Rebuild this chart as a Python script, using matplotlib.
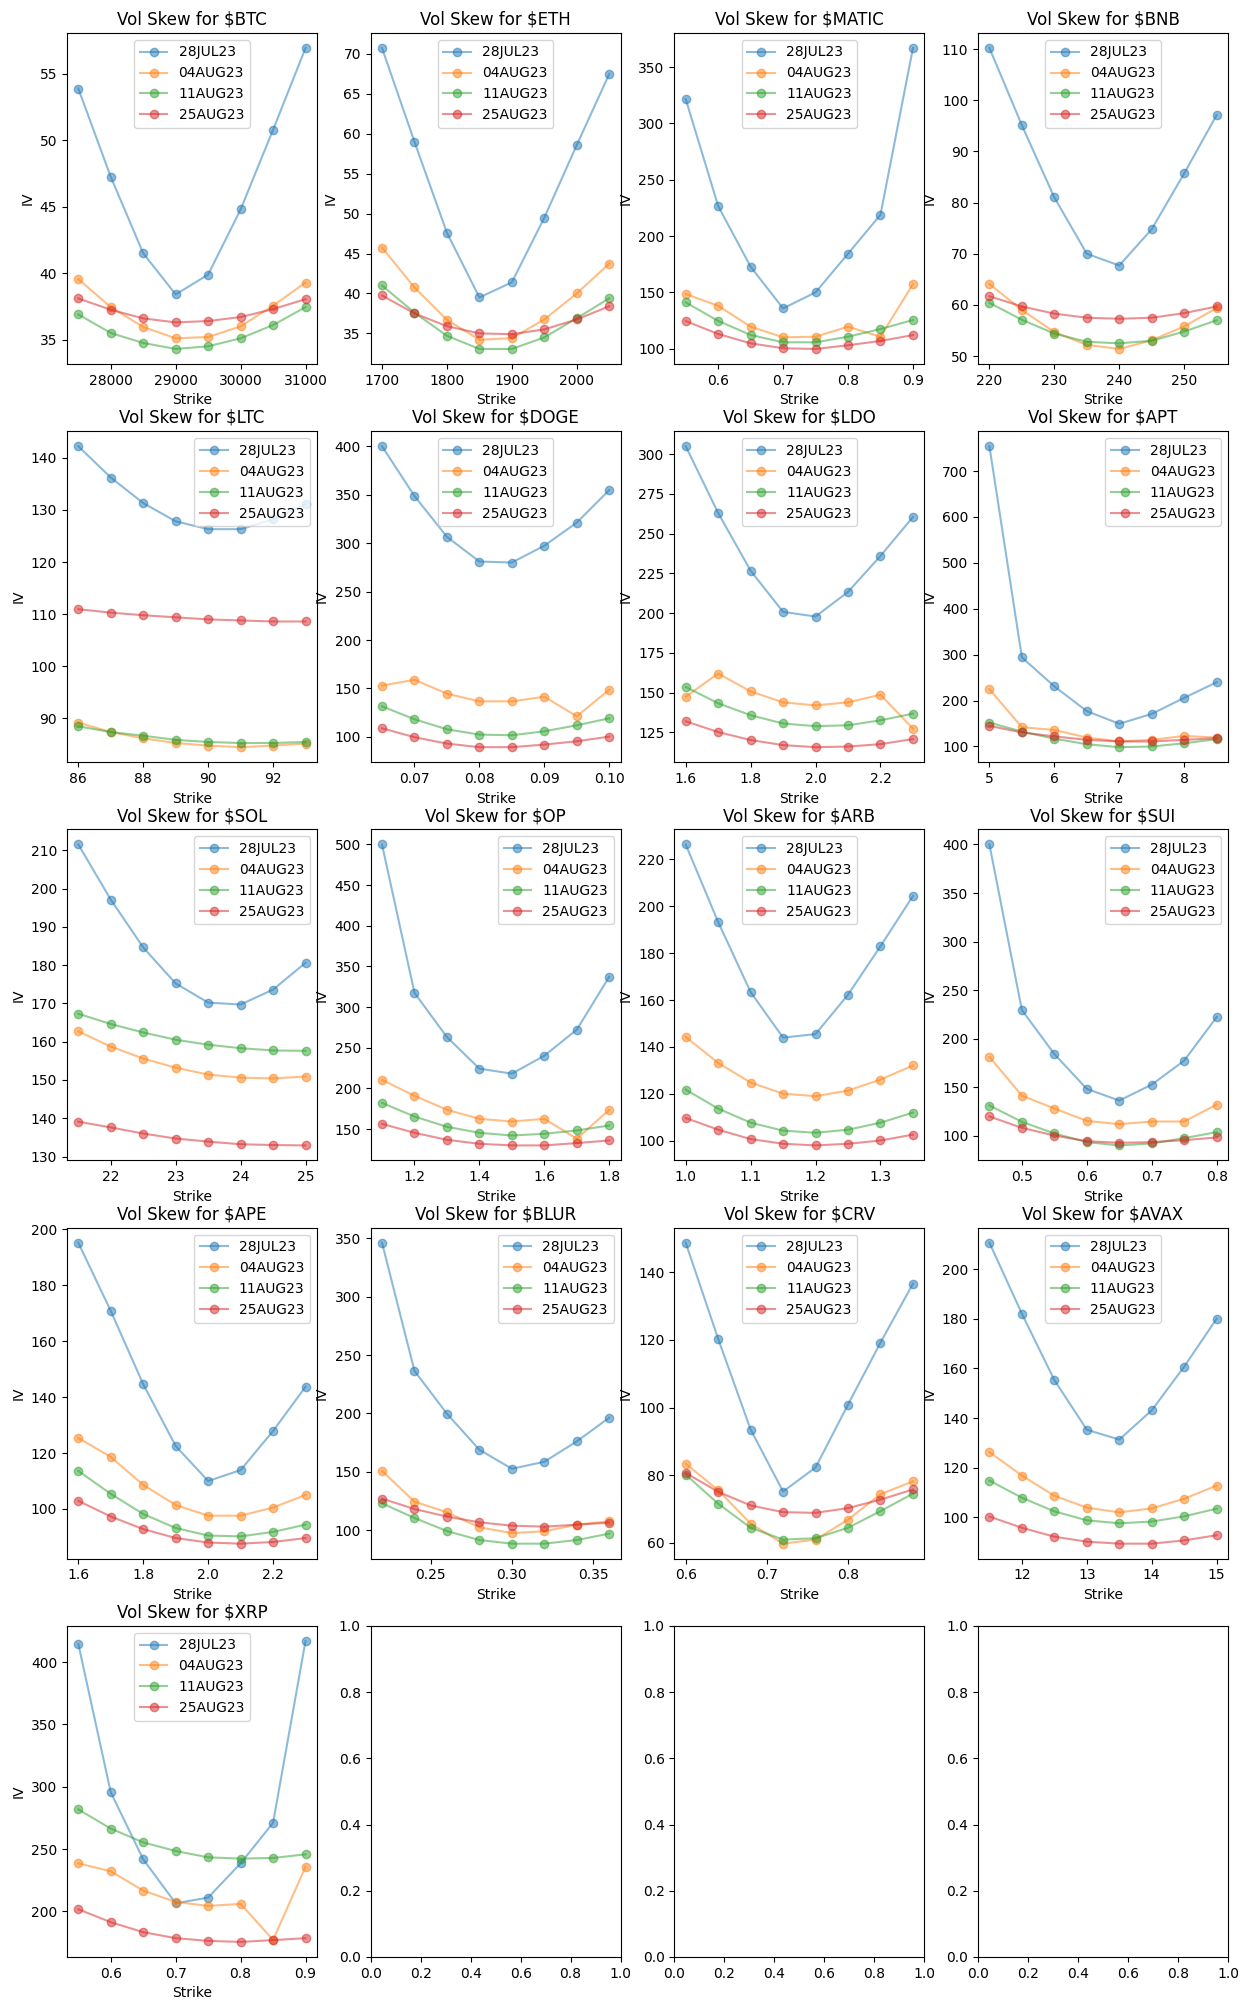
import matplotlib
matplotlib.use('Agg')
import matplotlib.pyplot as plt

expiries = ['28JUL23', '04AUG23', '11AUG23', '25AUG23']

# strikes and IV per expiry (rows follow `expiries`)
btc_strikes = [27500, 28000, 28500, 29000, 29500, 30000, 30500, 31000]
btc_iv = [[53.9, 47.25, 41.5, 38.4, 39.9, 44.8, 50.8, 56.95],
          [39.55, 37.45, 35.95, 35.1, 35.2, 36.0, 37.55, 39.3],
          [36.9, 35.5, 34.75, 34.3, 34.5, 35.1, 36.1, 37.45],
          [38.1, 37.25, 36.6, 36.3, 36.4, 36.7, 37.3, 38.05]]

eth_strikes = [1700, 1750, 1800, 1850, 1900, 1950, 2000, 2050]
eth_iv = [[70.75, 59.0, 47.6, 39.5, 41.4, 49.5, 58.6, 67.5],
          [45.75, 40.75, 36.7, 34.2, 34.4, 36.75, 40.0, 43.75],
          [41.0, 37.6, 34.7, 33.05, 33.05, 34.5, 36.9, 39.4],
          [39.75, 37.5, 35.9, 35.0, 34.9, 35.5, 36.75, 38.4]]

matic_strikes = [0.55, 0.6, 0.65, 0.7, 0.75, 0.8, 0.85, 0.9]
matic_iv = [[321.6, 226.6, 172.7, 135.7, 150.0, 184.3, 218.9, 367.0],
            [148.5, 138.0, 119.5, 110.0, 110.6, 119.5, 110.5, 157.4],
            [141.1, 124.6, 112.1, 105.6, 105.6, 110.6, 117.4, 125.4],
            [124.5, 113.0, 104.7, 100.3, 99.7, 103.0, 106.8, 112.0]]

bnb_strikes = [220, 225, 230, 235, 240, 245, 250, 255]
bnb_iv = [[110.2, 95.1, 81.0, 70.0, 67.7, 74.8, 85.7, 97.1],
          [64.1, 59.0, 54.7, 52.2, 51.4, 53.1, 55.8, 59.4],
          [60.4, 57.1, 54.4, 52.8, 52.5, 53.0, 54.8, 57.0],
          [61.7, 59.7, 58.3, 57.5, 57.3, 57.5, 58.4, 59.7]]

ltc_strikes = [86, 87, 88, 89, 90, 91, 92, 93]
ltc_iv = [[142.2, 136.2, 131.3, 127.8, 126.3, 126.3, 128.2, 131.1],
          [89.2, 87.4, 86.2, 85.3, 84.8, 84.5, 84.8, 85.2],
          [88.5, 87.4, 86.7, 85.9, 85.5, 85.3, 85.3, 85.5],
          [110.95, 110.3, 109.8, 109.4, 109.0, 108.8, 108.6, 108.6]]

doge_strikes = [0.065, 0.07, 0.075, 0.08, 0.085, 0.09, 0.095, 0.1]
doge_iv = [[400.0, 348.6, 306.5, 281.0, 280.0, 297.3, 321.2, 354.8],
           [153.0, 159.0, 144.6, 136.7, 136.7, 141.5, 121.3, 148.7],
           [131.6, 118.2, 107.9, 102.4, 101.7, 105.8, 112.0, 119.2],
           [108.9, 99.7, 93.1, 89.4, 89.4, 92.1, 95.5, 100.3]]

ldo_strikes = [1.6, 1.7, 1.8, 1.9, 2.0, 2.1, 2.2, 2.3]
ldo_iv = [[305.0, 263.0, 226.7, 200.8, 197.9, 213.4, 236.0, 260.5],
          [147.5, 162.0, 150.8, 143.9, 142.0, 143.9, 148.7, 127.4],
          [153.6, 143.3, 135.8, 130.6, 128.9, 129.5, 132.6, 136.8],
          [132.0, 125.2, 120.2, 117.0, 115.7, 116.1, 117.6, 120.8]]

apt_strikes = [5, 5.5, 6, 6.5, 7, 7.5, 8, 8.5]
apt_iv = [[754.0, 294.0, 231.0, 177.0, 149.5, 171.0, 206.0, 240.0],
          [224.6, 142.0, 136.0, 119.5, 111.0, 114.5, 123.0, 119.5],
          [152.0, 132.5, 117.0, 105.0, 98.5, 100.0, 107.0, 116.0],
          [145.0, 130.5, 122.0, 114.5, 111.0, 111.0, 114.5, 118.0]]

sol_strikes = [21.5, 22, 22.5, 23, 23.5, 24, 24.5, 25]
sol_iv = [[211.5, 197.1, 184.6, 175.2, 170.2, 169.7, 173.6, 180.6],
          [162.7, 158.7, 155.6, 153.2, 151.4, 150.6, 150.4, 150.9],
          [167.3, 164.6, 162.4, 160.5, 159.2, 158.3, 157.7, 157.6],
          [139.1, 137.6, 136.0, 134.7, 133.9, 133.2, 133.0, 132.9]]

op_strikes = [1.1, 1.2, 1.3, 1.4, 1.5, 1.6, 1.7, 1.8]
op_iv = [[500.0, 317.6, 263.2, 224.4, 218.2, 240.3, 272.3, 337.4],
         [210.6, 191.0, 173.8, 162.7, 159.4, 162.7, 138.2, 173.8],
         [182.3, 165.5, 152.9, 145.5, 142.2, 144.3, 148.4, 154.5],
         [156.5, 145.5, 136.9, 132.0, 130.0, 130.0, 132.9, 136.1]]

arb_strikes = [1.0, 1.05, 1.1, 1.15, 1.2, 1.25, 1.3, 1.35]
arb_iv = [[226.4, 193.3, 163.4, 144.0, 145.5, 162.3, 183.0, 204.4],
          [144.3, 133.2, 124.8, 120.1, 119.0, 121.4, 126.1, 132.1],
          [121.8, 113.7, 107.7, 104.3, 103.4, 104.7, 107.7, 112.0],
          [109.7, 104.7, 100.7, 98.7, 98.0, 98.7, 100.1, 102.6]]

sui_strikes = [0.45, 0.5, 0.55, 0.6, 0.65, 0.7, 0.75, 0.8]
sui_iv = [[400.0, 229.5, 184.2, 148.3, 136.3, 152.7, 177.4, 222.3],
          [181.2, 141.4, 128.1, 115.4, 112.0, 114.7, 114.7, 132.2],
          [131.2, 114.4, 102.4, 93.5, 90.1, 92.1, 97.6, 103.8],
          [119.9, 108.2, 100.3, 94.5, 92.8, 93.5, 95.5, 98.3]]

ape_strikes = [1.6, 1.7, 1.8, 1.9, 2.0, 2.1, 2.2, 2.3]
ape_iv = [[195.2, 170.8, 144.6, 122.5, 110.0, 113.9, 127.9, 143.7],
          [125.4, 118.6, 108.6, 101.4, 97.6, 97.6, 100.5, 105.0],
          [113.6, 105.4, 98.2, 93.2, 90.5, 90.2, 91.8, 94.4],
          [102.9, 97.3, 92.8, 89.6, 88.0, 87.6, 88.2, 89.6]]

blur_strikes = [0.22, 0.24, 0.26, 0.28, 0.30, 0.32, 0.34, 0.36]
blur_iv = [[346.3, 236.4, 199.7, 168.8, 152.5, 158.5, 176.0, 196.3],
           [150.6, 124.3, 115.2, 102.3, 97.4, 98.9, 104.6, 107.4],
           [122.9, 110.3, 99.1, 91.4, 88.3, 88.3, 91.4, 96.9],
           [126.9, 118.0, 111.5, 106.6, 103.7, 102.9, 104.6, 106.3]]

crv_strikes = [0.6, 0.64, 0.68, 0.72, 0.76, 0.8, 0.84, 0.88]
crv_iv = [[148.7, 120.3, 93.5, 75.2, 82.3, 100.9, 119.2, 136.6],
          [83.4, 75.6, 65.7, 59.8, 61.0, 66.9, 74.4, 78.2],
          [80.2, 71.6, 64.5, 61.0, 61.4, 64.5, 69.4, 74.6],
          [80.7, 75.1, 71.1, 69.1, 68.9, 70.3, 72.8, 75.8]]

avax_strikes = [11.5, 12, 12.5, 13, 13.5, 14, 14.5, 15]
avax_iv = [[210.6, 182.0, 155.3, 135.3, 131.3, 143.1, 160.7, 180.0],
           [126.3, 116.8, 108.7, 103.9, 102.0, 103.6, 107.5, 112.8],
           [114.8, 107.9, 102.4, 98.8, 97.6, 98.3, 100.4, 103.5],
           [100.3, 95.8, 92.2, 90.2, 89.4, 89.4, 90.7, 92.8]]

xrp_strikes = [0.55, 0.6, 0.65, 0.7, 0.75, 0.8, 0.85, 0.9]
xrp_iv = [[414.7, 295.5, 241.7, 206.4, 211.0, 238.5, 271.1, 417.1],
          [238.5, 232.1, 216.6, 207.5, 204.3, 205.9, 177.0, 235.8],
          [281.8, 266.4, 255.3, 248.4, 243.3, 242.3, 242.8, 245.7],
          [201.6, 191.2, 183.2, 178.4, 176.2, 175.4, 176.8, 178.4]]

tickers = ['BTC', 'ETH', 'MATIC', 'BNB', 'LTC', 'DOGE', 'LDO', 'APT', 'SOL',
           'OP', 'ARB', 'SUI', 'APE', 'BLUR', 'CRV', 'AVAX', 'XRP']
strikes = [btc_strikes, eth_strikes, matic_strikes, bnb_strikes, ltc_strikes,
           doge_strikes, ldo_strikes, apt_strikes, sol_strikes, op_strikes,
           arb_strikes, sui_strikes, ape_strikes, blur_strikes, crv_strikes,
           avax_strikes, xrp_strikes]
ivs = [btc_iv, eth_iv, matic_iv, bnb_iv, ltc_iv, doge_iv, ldo_iv, apt_iv,
       sol_iv, op_iv, arb_iv, sui_iv, ape_iv, blur_iv, crv_iv, avax_iv, xrp_iv]
legend_locs = ['upper center', 'upper center', 'upper center', 'upper center',
               'upper right', 'upper center', 'upper center', 'upper right',
               'upper right', 'upper right', 'upper center', 'upper right',
               'upper right', 'upper right', 'upper center', 'upper center',
               'upper center']

fig, axs = plt.subplots(5, 4, figsize=(12.49, 20.1), dpi=100)
fig.subplots_adjust(left=0.0536, right=0.9832, top=0.9836, bottom=0.0264,
                    wspace=0.215, hspace=0.203)

for i, ticker in enumerate(tickers):
    ax = axs.flat[i]
    for exp, iv in zip(expiries, ivs[i]):
        ax.plot(strikes[i], iv, marker='o', alpha=0.5, label=exp)
    ax.set_title(f'Vol Skew for ${ticker}')
    ax.set_xlabel('Strike')
    ax.set_ylabel('IV')
    ax.legend(loc=legend_locs[i])

fig.savefig('out.png', dpi=100)
